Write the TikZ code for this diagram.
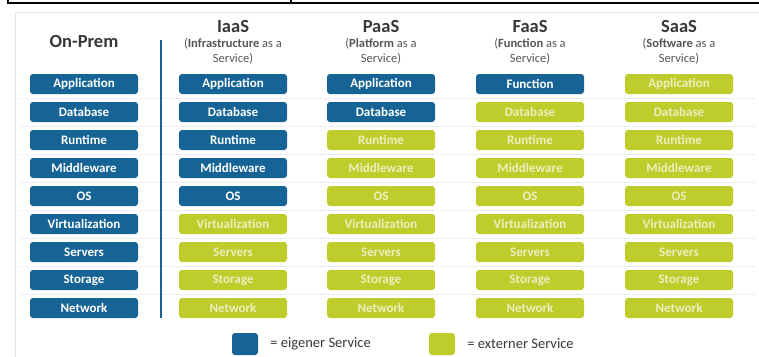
\documentclass[tikz,border=0pt]{standalone}
\usepackage{fontspec}
\setmainfont{Carlito}
\usepackage{tikz}
\usetikzlibrary{positioning}
\definecolor{ownblue}{RGB}{22,100,150}
\definecolor{extgreen}{RGB}{190,204,44}
\definecolor{exttext}{RGB}{236,240,190}
\definecolor{headgray}{RGB}{55,55,55}
\definecolor{subgray}{RGB}{85,85,85}
\definecolor{sepgray}{RGB}{214,222,228}
\tikzset{
  layer/.style={minimum width=108, minimum height=20, inner sep=0pt,
    rounded corners=3, font=\fontsize{13}{15}\selectfont\bfseries},
  own/.style={layer, fill=ownblue, text=white},
  ext/.style={layer, fill=extgreen, text=exttext},
  title/.style={font=\fontsize{18.5}{20}\selectfont\bfseries, text=headgray, inner sep=0pt},
  subtitle/.style={font=\fontsize{12.5}{15}\selectfont, text=subgray, align=center, inner sep=0pt},
  legendbox/.style={minimum width=26, minimum height=22, inner sep=0pt, rounded corners=3},
  legendtext/.style={font=\fontsize{14.5}{16}\selectfont, text=headgray, inner sep=0pt}
}
\begin{document}
\begin{tikzpicture}[x=1pt, y=-1pt]
  \useasboundingbox (0,0) rectangle (759,356);
  % page frame
  \draw[line width=2.5] (8,0) -- (8,3) -- (759,3);
  \draw[line width=2.5] (291,0) -- (291,3);
  \draw[gray!20] (15,360) -- (15,12) -- (765,12);

  % row separators
  \foreach \k in {0,...,7}
    \draw[sepgray, line width=0.8, dash pattern=on 1pt off 1pt] (20,98+28*\k) -- (755,98+28*\k);

  % column headers
  \node[title] (hdr0) at (84,42) {On-Prem};
  \foreach \c/\x/\abbr/\full in {1/233/IaaS/Infrastructure, 2/381/PaaS/Platform,
                                 3/530/FaaS/Function, 4/679/SaaS/Software} {
    \node[title] (hdr\c) at (\x,27) {\abbr};
    \node[subtitle] (sub\c) at (\x,51.5) {(\textbf{\full} as a\\Service)};
  }

  % stacks: number of own layers per column
  \foreach \c/\x/\n in {0/84/9, 1/233/5, 2/381/2, 3/530/1, 4/679/0} {
    \foreach \name [count=\r] in {Application, Database, Runtime, Middleware, OS,
                                  Virtualization, Servers, Storage, Network} {
      \ifnum\r>\n \def\sty{ext}\else\def\sty{own}\fi
      \def\txt{\name}
      \ifnum\c=3 \ifnum\r=1 \def\txt{Function}\fi\fi
      \node[\sty] (c\c r\r) at (\x,56+28*\r) {\txt};
    }
  }

  % divider
  \coordinate (divtop) at (161,40);
  \coordinate (divbot) at (161,318);
  \draw[ownblue, line width=2] (divtop) -- (divbot);

  % legend
  \node[legendbox, fill=ownblue] (legown) at (245,344) {};
  \node[legendtext, right=12pt of legown] (legowntext) {= eigener Service};
  \node[legendbox, fill=extgreen] (legext) at (442,344) {};
  \node[legendtext, right=12pt of legext] (legexttext) {= externer Service};
\end{tikzpicture}
\end{document}
